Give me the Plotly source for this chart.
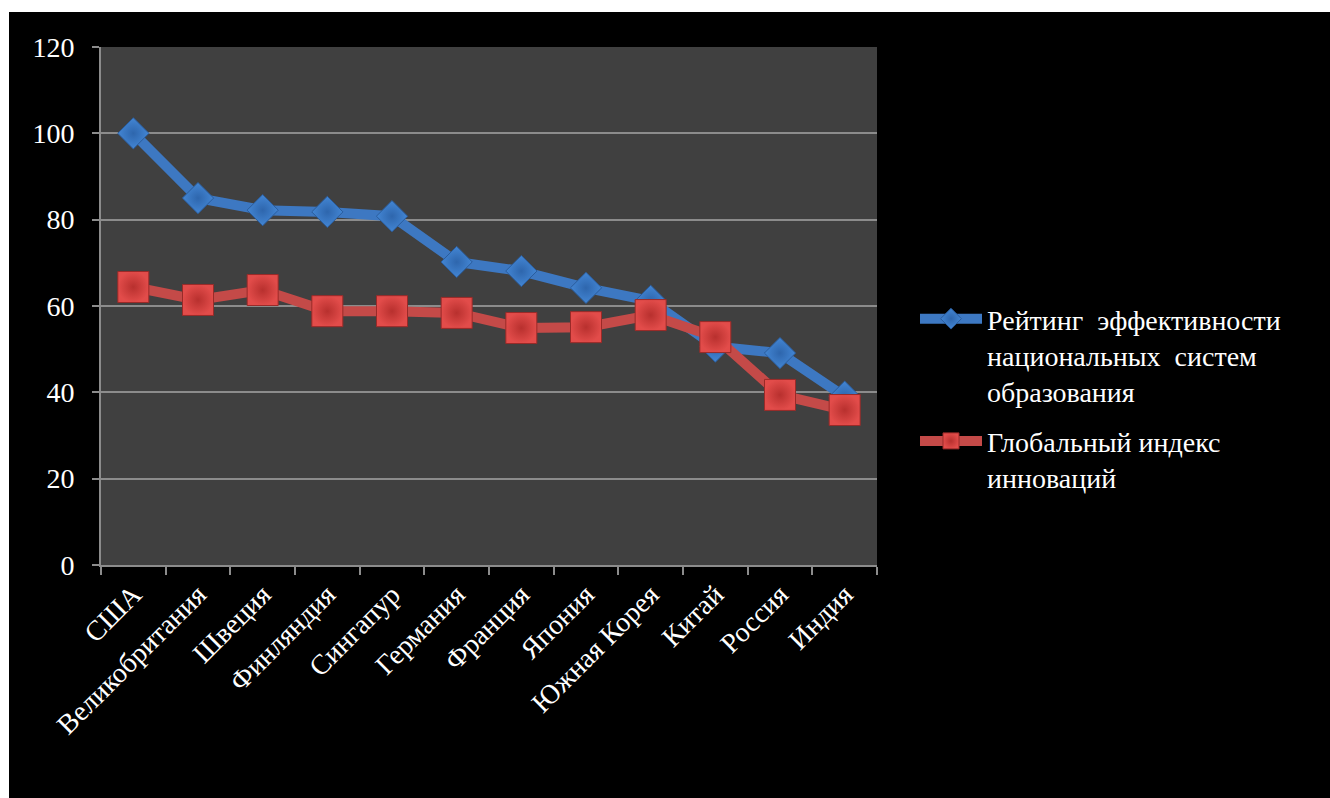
import plotly.graph_objects as go

categories = ["США", "Великобритания", "Швеция", "Финляндия", "Сингапур", "Германия",
              "Франция", "Япония", "Южная Корея", "Китай", "Россия", "Индия"]
education_rating = [100, 85.0, 82.2, 81.8, 80.8, 70.2, 68.1, 64.2, 61.2, 50.6, 49.1, 39.0]
innovation_index = [64.4, 61.4, 63.7, 58.8, 58.8, 58.4, 54.9, 55.1, 57.9, 52.8, 39.4, 35.9]
y_ticks = [0, 20, 40, 60, 80, 100, 120]

series_names = ["Рейтинг  эффективности<br>национальных  систем<br>образования",
                "Глобальный индекс<br>инноваций"]

# body margin is removed in post_script, so figure coords = page coords
W, H = 1345, 810
L, R, T, B = 101, 877, 47, 565

FONT = "Liberation Serif, Times New Roman, serif"

fig = go.Figure()
fig.add_trace(go.Scatter(
    x=categories, y=education_rating, name=series_names[0], mode="lines+markers",
    legendgroup="edu",
    line=dict(color="#3D78C2", width=10),
    marker=dict(symbol="diamond", size=24, color="#4386D4",
                line=dict(color="#2A5C9C", width=1),
                gradient=dict(type="radial", color="#2E66AD")),
))
fig.add_trace(go.Scatter(
    x=categories, y=innovation_index, name=series_names[1], mode="lines+markers",
    legendgroup="inn",
    line=dict(color="#C44A48", width=10),
    marker=dict(symbol="square", size=31, color="#E24C4A",
                line=dict(color="#9A2A28", width=1),
                gradient=dict(type="radial", color="#B8302E")),
))

pw, ph = R - L, B - T
def px_x(p):
    return (p - L) / pw
def px_y(p):
    return (B - p) / ph

fig.update_layout(
    width=W, height=H,
    margin=dict(l=L, r=W - R, t=T, b=H - B),
    paper_bgcolor="#000000",
    plot_bgcolor="#404040",
    font=dict(family=FONT, color="#FFFFFF"),
    showlegend=True,
    legend=dict(x=px_x(915), y=px_y(398), xanchor="left", yanchor="middle",
                font=dict(family=FONT, size=28, color="#FFFFFF"), bgcolor="rgba(0,0,0,0)",
                itemwidth=62, valign="top", tracegroupgap=10),
    xaxis=dict(
        type="category", range=[-0.5, len(categories) - 0.5],
        showgrid=False, showline=True, linecolor="#8C8C8C", linewidth=2,
        ticks="outside", tickson="boundaries", ticklen=8, tickcolor="#8C8C8C", tickwidth=2,
        tickangle=-45, tickfont=dict(family=FONT, size=28, color="#FFFFFF"),
    ),
    yaxis=dict(
        range=[0, 120], tickvals=y_ticks, showgrid=True, gridcolor="#8C8C8C", gridwidth=1.5,
        showline=True, linecolor="#8C8C8C", linewidth=2, zeroline=False,
        ticks="outside", ticklen=7, tickcolor="#8C8C8C", tickwidth=2,
        tickfont=dict(family=FONT, size=28, color="#FFFFFF"), ticklabelstandoff=12,
    ),
    shapes=[
        dict(type="rect", xref="paper", yref="paper", x0=px_x(0), x1=px_x(W),
             y0=px_y(12), y1=px_y(0), fillcolor="#FFFFFF", line=dict(width=0), layer="below"),
        dict(type="rect", xref="paper", yref="paper", x0=px_x(0), x1=px_x(9),
             y0=px_y(H), y1=px_y(0), fillcolor="#FFFFFF", line=dict(width=0), layer="below"),
    ],
)

fig.write_html(
    "out.html",
    config={"displayModeBar": False},
    post_script=("document.body.style.margin='0';document.body.style.overflow='hidden';"
                 "document.documentElement.style.overflow='hidden';"
                 "document.documentElement.style.background='#000000';"),
)
